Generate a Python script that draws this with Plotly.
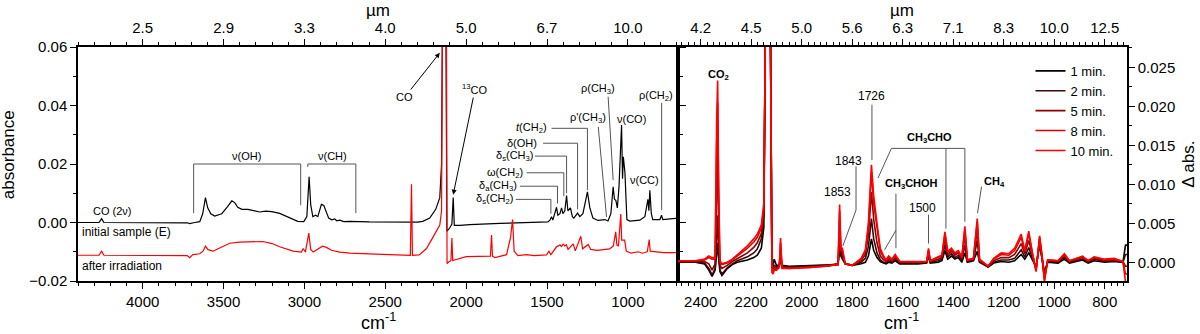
import plotly.graph_objects as go

# ---------------- data ----------------
# Left panel: initial sample (E), black
BLACK_WN = [4400, 4300, 4270, 4254, 4240, 3725, 3709, 3678, 3647, 3629,
            3612, 3598, 3579, 3555, 3511, 3474, 3449, 3431, 3412, 3387,
            3350, 3307, 3276, 3239, 3202, 3153, 3091, 3041, 3004, 2985,
            2971, 2961, 2948, 2930, 2917, 2895, 2880, 2868, 2850, 2831,
            2812, 2800, 2781, 2757, 2720, 2600, 2500, 2400, 2300, 2268,
            2225, 2188, 2163, 2152, 2146, 2126, 2119, 2101, 2088, 2080,
            2073, 2039, 1977, 1792, 1606, 1495, 1482, 1472, 1464, 1451,
            1441, 1433, 1420, 1410, 1402, 1390, 1379, 1371, 1355, 1343,
            1334, 1311, 1297, 1278, 1266, 1250, 1235, 1216, 1185, 1161,
            1142, 1123, 1105, 1091, 1083, 1074, 1065, 1055, 1049, 1039,
            1033, 1028, 1018, 1012, 1006, 988, 926, 895, 876, 870,
            864, 855, 846, 802, 792, 784, 740, 690]
BLACK_ABS = [0.0000, 0.0000, 0.0000, 0.0013, 0.0000, -0.0001, -0.0004, 0.0000, 0.0003, 0.0030,
             0.0085, 0.0050, 0.0030, 0.0022, 0.0030, 0.0055, 0.0074, 0.0068, 0.0052, 0.0045,
             0.0045, 0.0040, 0.0036, 0.0039, 0.0037, 0.0031, 0.0015, 0.0004, 0.0003, 0.0020,
             0.0156, 0.0060, 0.0020, 0.0025, 0.0020, 0.0062, 0.0058, 0.0040, 0.0015, 0.0009,
             0.0012, 0.0006, 0.0008, 0.0003, 0.0004, 0.0002, 0.0002, 0.0000, 0.0001, 0.0004,
             0.0015, 0.0045, 0.0085, 0.0200, 0.0750, 0.0750, -0.0030, -0.0018, -0.0005, 0.0085,
             -0.0010, -0.0010, -0.0007, -0.0003, 0.0000, 0.0002, 0.0008, 0.0020, 0.0008, 0.0030,
             0.0052, 0.0025, 0.0030, 0.0050, 0.0030, 0.0040, 0.0092, 0.0040, 0.0050, 0.0020,
             0.0015, 0.0032, 0.0020, 0.0030, 0.0060, 0.0105, 0.0050, 0.0015, 0.0007, 0.0008,
             0.0010, 0.0005, 0.0030, 0.0122, 0.0080, 0.0075, 0.0050, 0.0120, 0.0200, 0.0333,
             0.0150, 0.0225, 0.0170, 0.0100, 0.0010, 0.0005, 0.0008, 0.0020, 0.0079, 0.0040,
             0.0110, 0.0030, 0.0010, 0.0010, 0.0025, 0.0010, 0.0012, 0.0015]

# Left panel: after irradiation, red (offset)
RED_WN = [4400, 4270, 4254, 4240, 3725, 3709, 3690, 3647, 3627, 3612,
          3596, 3565, 3524, 3462, 3400, 3330, 3256, 3200, 3153, 3070,
          3018, 3008, 2994, 2973, 2961, 2946, 2920, 2888, 2864, 2833,
          2781, 2719, 2600, 2515, 2410, 2345, 2338, 2332, 2290, 2245,
          2204, 2163, 2152, 2146, 2122, 2118, 2108, 2094, 2088, 2083,
          2000, 1850, 1843, 1837, 1822, 1750, 1725, 1713, 1703, 1680,
          1627, 1580, 1503, 1488, 1476, 1441, 1430, 1420, 1410, 1400,
          1390, 1380, 1370, 1338, 1325, 1291, 1280, 1245, 1230, 1190,
          1112, 1090, 1075, 1068, 1058, 1044, 1038, 1020, 1010, 980,
          936, 910, 880, 868, 862, 820, 780, 690]
RED_ABS = [-0.0112, -0.0112, -0.0098, -0.0112, -0.0113, -0.0120, -0.0110, -0.0107, -0.0098, -0.0081,
           -0.0093, -0.0098, -0.0087, -0.0071, -0.0067, -0.0066, -0.0065, -0.0072, -0.0083, -0.0098,
           -0.0101, -0.0089, -0.0101, -0.0036, -0.0092, -0.0101, -0.0093, -0.0081, -0.0085, -0.0095,
           -0.0101, -0.0105, -0.0107, -0.0109, -0.0112, -0.0112, 0.0131, -0.0112, -0.0111, -0.0089,
           -0.0049, -0.0009, 0.0040, 0.0750, 0.0750, -0.0140, -0.0135, -0.0130, -0.0053, -0.0130,
           -0.0117, -0.0115, -0.0043, -0.0115, -0.0120, -0.0110, -0.0050, 0.0010, -0.0098, -0.0113,
           -0.0110, -0.0113, -0.0111, -0.0098, -0.0110, -0.0083, -0.0080, -0.0076, -0.0082, -0.0074,
           -0.0080, -0.0076, -0.0092, -0.0073, -0.0097, -0.0047, -0.0090, -0.0075, -0.0092, -0.0095,
           -0.0090, -0.0080, -0.0032, -0.0077, -0.0080, 0.0029, -0.0060, -0.0060, -0.0098, -0.0105,
           -0.0100, -0.0105, -0.0100, -0.0058, -0.0098, -0.0100, -0.0103, -0.0103]

# Right panel: difference spectra
RIGHT_WN = [2490, 2420, 2385, 2368, 2355, 2343, 2337, 2333, 2329, 2324,
            2316, 2295, 2275, 2255, 2215, 2190, 2176, 2160, 2150, 2144,
            2124, 2118, 2113, 2109, 2100, 2089, 2084, 2078, 2050, 1970,
            1900, 1856, 1850, 1845, 1839, 1828, 1800, 1765, 1748, 1736,
            1724, 1715, 1702, 1689, 1676, 1666, 1656, 1643, 1630, 1612,
            1540, 1505, 1498, 1491, 1460, 1445, 1433, 1422, 1407, 1394,
            1380, 1366, 1354, 1344, 1320, 1305, 1296, 1262, 1240, 1210,
            1180, 1157, 1131, 1117, 1101, 1086, 1072, 1058, 1048, 1039,
            1026, 985, 960, 940, 888, 866, 842, 800, 763, 728,
            718, 712]
ABS_1MIN = [0.0000, 0.0000, -0.0002, -0.0010, -0.0018, -0.0010, 0.0010, 0.0025, 0.0005, -0.0012,
            -0.0017, -0.0008, -0.0003, 0.0000, 0.0003, 0.0006, 0.0009, 0.0018, 0.0045, 0.0300,
            0.0300, 0.0000, -0.0003, 0.0004, -0.0004, -0.0004, 0.0002, -0.0004, -0.0005, -0.0004,
            -0.0003, -0.0003, 0.0016, 0.0008, 0.0004, -0.0002, -0.0004, -0.0002, 0.0000, 0.0008,
            0.0030, 0.0015, 0.0006, 0.0001, -0.0001, -0.0002, 0.0000, -0.0001, 0.0002, -0.0002,
            -0.0002, -0.0001, 0.0008, -0.0001, 0.0000, 0.0002, 0.0015, 0.0004, 0.0008, 0.0004,
            0.0006, 0.0000, 0.0012, 0.0000, 0.0002, 0.0014, 0.0000, -0.0006, -0.0001, 0.0001,
            0.0000, 0.0002, 0.0010, 0.0004, 0.0012, 0.0002, -0.0006, 0.0022, 0.0004, -0.0012,
            0.0000, -0.0001, 0.0004, -0.0001, 0.0003, -0.0001, 0.0002, 0.0000, 0.0001, 0.0000,
            0.0022, 0.0022]
ABS_2MIN = [0.0000, 0.0000, -0.0001, -0.0008, -0.0016, -0.0008, 0.0030, 0.0060, 0.0020, -0.0010,
            -0.0015, -0.0007, -0.0002, 0.0002, 0.0007, 0.0012, 0.0017, 0.0030, 0.0060, 0.0300,
            0.0300, -0.0003, -0.0006, -0.0004, -0.0006, -0.0004, 0.0008, -0.0005, -0.0006, -0.0005,
            -0.0004, -0.0002, 0.0030, 0.0012, 0.0008, -0.0002, -0.0004, 0.0000, 0.0005, 0.0020,
            0.0056, 0.0030, 0.0012, 0.0003, 0.0000, -0.0001, 0.0002, 0.0000, 0.0004, -0.0001,
            -0.0001, 0.0000, 0.0011, 0.0000, 0.0002, 0.0004, 0.0022, 0.0007, 0.0011, 0.0006,
            0.0009, 0.0002, 0.0022, 0.0001, 0.0003, 0.0028, 0.0001, -0.0006, 0.0000, 0.0003,
            0.0003, 0.0005, 0.0016, 0.0007, 0.0019, 0.0004, -0.0007, 0.0026, 0.0005, -0.0016,
            0.0001, 0.0000, 0.0006, 0.0000, 0.0004, 0.0000, 0.0004, 0.0001, 0.0002, 0.0000,
            0.0010, 0.0010]
ABS_5MIN = [0.0001, 0.0001, 0.0001, -0.0002, -0.0010, -0.0002, 0.0080, 0.0140, 0.0050, -0.0004,
            -0.0008, -0.0004, 0.0001, 0.0005, 0.0012, 0.0019, 0.0025, 0.0037, 0.0065, 0.0300,
            0.0300, -0.0006, -0.0009, -0.0007, -0.0008, -0.0005, 0.0016, -0.0006, -0.0007, -0.0006,
            -0.0005, -0.0002, 0.0050, 0.0014, 0.0012, -0.0002, -0.0004, 0.0002, 0.0010, 0.0035,
            0.0090, 0.0055, 0.0025, 0.0008, 0.0003, 0.0001, 0.0004, 0.0002, 0.0006, 0.0000,
            0.0000, 0.0000, 0.0014, 0.0001, 0.0004, 0.0006, 0.0030, 0.0010, 0.0014, 0.0009,
            0.0012, 0.0004, 0.0034, 0.0002, 0.0004, 0.0042, 0.0002, -0.0005, 0.0002, 0.0006,
            0.0006, 0.0010, 0.0024, 0.0011, 0.0028, 0.0007, -0.0009, 0.0030, 0.0006, -0.0020,
            0.0002, 0.0001, 0.0008, 0.0001, 0.0006, 0.0001, 0.0005, 0.0002, 0.0003, 0.0001,
            -0.0005, -0.0005]
ABS_8MIN = [0.0002, 0.0002, 0.0003, 0.0006, 0.0004, 0.0004, 0.0150, 0.0205, 0.0080, 0.0000,
            -0.0003, -0.0001, 0.0003, 0.0008, 0.0018, 0.0026, 0.0032, 0.0044, 0.0070, 0.0300,
            0.0300, -0.0009, -0.0012, -0.0009, -0.0009, -0.0006, 0.0025, -0.0007, -0.0008, -0.0006,
            -0.0005, -0.0003, 0.0066, 0.0016, 0.0015, -0.0002, -0.0004, 0.0004, 0.0014, 0.0045,
            0.0115, 0.0075, 0.0042, 0.0014, 0.0006, 0.0002, 0.0006, 0.0003, 0.0008, 0.0001,
            0.0000, 0.0001, 0.0016, 0.0002, 0.0006, 0.0008, 0.0036, 0.0013, 0.0016, 0.0011,
            0.0014, 0.0006, 0.0042, 0.0003, 0.0005, 0.0052, 0.0003, -0.0005, 0.0004, 0.0010,
            0.0009, 0.0015, 0.0032, 0.0014, 0.0036, 0.0009, -0.0011, 0.0032, 0.0007, -0.0023,
            0.0003, 0.0002, 0.0010, 0.0002, 0.0007, 0.0002, 0.0006, 0.0003, 0.0004, 0.0001,
            -0.0015, -0.0015]
ABS_10MIN = [0.0002, 0.0002, 0.0004, 0.0008, 0.0006, 0.0006, 0.0180, 0.0233, 0.0100, 0.0002,
             -0.0002, 0.0000, 0.0004, 0.0010, 0.0021, 0.0030, 0.0036, 0.0048, 0.0076, 0.0300,
             0.0300, -0.0013, -0.0015, -0.0010, -0.0010, -0.0007, 0.0031, -0.0008, -0.0008, -0.0007,
             -0.0005, -0.0003, 0.0074, 0.0018, 0.0018, -0.0002, -0.0004, 0.0005, 0.0016, 0.0050,
             0.0125, 0.0085, 0.0050, 0.0018, 0.0008, 0.0003, 0.0008, 0.0004, 0.0010, 0.0001,
             0.0001, 0.0001, 0.0018, 0.0002, 0.0007, 0.0009, 0.0039, 0.0014, 0.0018, 0.0012,
             0.0015, 0.0007, 0.0046, 0.0003, 0.0005, 0.0056, 0.0004, -0.0005, 0.0005, 0.0012,
             0.0011, 0.0018, 0.0036, 0.0015, 0.0040, 0.0010, -0.0012, 0.0034, 0.0008, -0.0025,
             0.0003, 0.0002, 0.0011, 0.0002, 0.0008, 0.0002, 0.0007, 0.0004, 0.0005, 0.0001,
             -0.0025, -0.0025]

SERIES_NAMES = ["1 min.", "2 min.", "5 min.", "8 min.", "10 min."]

# Tick labels
LEFT_TICKS_WN = [4000, 3500, 3000, 2500, 2000, 1500, 1000]
LEFT_TICKS_UM = ["2.5", "2.9", "3.3", "4.0", "5.0", "6.7", "10.0"]
RIGHT_TICKS_WN = [2400, 2200, 2000, 1800, 1600, 1400, 1200, 1000, 800]
RIGHT_TICKS_UM = ["4.2", "4.5", "5.0", "5.6", "6.3", "7.1", "8.3", "10.0", "12.5"]

# ---------------- figure ----------------
FONT = "Liberation Sans, Arial, sans-serif"
SERIES_COLORS = ["#000000", "#3c0808", "#8b0000", "#dc0000", "#ff0000"]
right_series = [ABS_1MIN, ABS_2MIN, ABS_5MIN, ABS_8MIN, ABS_10MIN]

fig = go.Figure()
fig.add_trace(go.Scatter(x=BLACK_WN, y=BLACK_ABS, mode="lines", xaxis="x", yaxis="y",
                         line=dict(color="#000000", width=1.2), showlegend=False, hoverinfo="skip"))
fig.add_trace(go.Scatter(x=RED_WN, y=RED_ABS, mode="lines", xaxis="x", yaxis="y",
                         line=dict(color="#ff0000", width=1.2), showlegend=False, hoverinfo="skip"))
for name, vals, col in zip(SERIES_NAMES, right_series, SERIES_COLORS):
    fig.add_trace(go.Scatter(x=RIGHT_WN, y=vals, mode="lines", name=name, xaxis="x2", yaxis="y2",
                             line=dict(color=col, width=1.6), hoverinfo="skip"))
# empty traces so the top (µm) axes are drawn
fig.add_trace(go.Scatter(x=[], y=[], xaxis="x3", yaxis="y", showlegend=False))
fig.add_trace(go.Scatter(x=[], y=[], xaxis="x4", yaxis="y2", showlegend=False))

W, H = 1200, 334
L, T = 78, 47
R = W - L - 1049
B = H - T - 234
pw = W - L - R
split = 600 / pw

common = dict(showline=True, linecolor="black", linewidth=1.5, ticks="outside", ticklen=6,
              tickwidth=1.3, tickcolor="black", showgrid=False, zeroline=False,
              automargin=False,
              tickfont=dict(family=FONT, size=15, color="black"))

def minor(dt):
    return dict(ticks="outside", ticklen=3, tickwidth=1, tickcolor="black",
                tickmode="linear", tick0=0, dtick=dt, showgrid=False)

fig.update_layout(
    template="none",
    width=W, height=H, margin=dict(l=L, r=R, t=T, b=B, autoexpand=False),
    paper_bgcolor="white", plot_bgcolor="white",
    font=dict(family=FONT, color="black"),
    xaxis=dict(domain=[0, split], range=[4400, 690], anchor="y", tick0=0, dtick=500,
               minor=minor(100), **common),
    xaxis3=dict(domain=[0, split], range=[4400, 690], anchor="y", overlaying="x", side="top",
                tickmode="array", tickvals=LEFT_TICKS_WN, ticktext=LEFT_TICKS_UM,
                minor=minor(100), **common),
    yaxis=dict(domain=[0, 1], range=[-0.02, 0.06], anchor="x", tick0=0, dtick=0.02,
               tickformat=".2f", mirror="ticks", minor=minor(0.01), **common),
    xaxis2=dict(domain=[split, 1], range=[2490, 712], anchor="y2", tick0=0, dtick=200,
                minor=minor(25), **common),
    xaxis4=dict(domain=[split, 1], range=[2490, 712], anchor="y2", overlaying="x2", side="top",
                tickmode="array", tickvals=RIGHT_TICKS_WN, ticktext=RIGHT_TICKS_UM,
                minor=minor(25), **common),
    yaxis2=dict(domain=[0, 1], range=[-0.0024, 0.0276], anchor="x2", side="right", tick0=0,
                dtick=0.005, tickformat=".3f", mirror=True, minor=minor(0.0025), **common),
    legend=dict(x=0.908, y=0.962, xanchor="left", yanchor="top", bgcolor="rgba(0,0,0,0)",
                font=dict(family=FONT, size=13, color="black"), tracegroupgap=0,
                itemwidth=30, borderwidth=0),
    showlegend=True,
)

# ---------------- labels ----------------
ann = []

def txt(x, y, text, xref="x", yref="y", size=11, **kw):
    d = dict(x=x, y=y, text=text, xref=xref, yref=yref, showarrow=False,
             xanchor="center", yanchor="middle",
             font=dict(family=FONT, size=size, color="black"))
    d.update(kw)
    ann.append(d)

# axis titles
txt(-0.0667, 0.538, "absorbance", "paper", "paper", size=17, textangle=-90)
txt(0.286, 1.156, "µm", "paper", "paper", size=17)
txt(0.7855, 1.156, "µm", "paper", "paper", size=17)
txt(0.286, -0.175, "cm<sup>-1</sup>", "paper", "paper", size=18)
txt(0.7846, -0.175, "cm<sup>-1</sup>", "paper", "paper", size=18)
txt(1.058, 0.50, "Δ abs.", "paper", "paper", size=17, textangle=-90)

# left panel labels
txt(4184, 0.0040, "CO (2ν)")
txt(4390, -0.0032, "initial sample (E)", size=12, xanchor="left")
txt(4390, -0.0150, "after irradiation", size=12, xanchor="left")
txt(3357, 0.0226, "ν(OH)")
txt(2825, 0.0226, "ν(CH)")
txt(1185, 0.0455, "ρ(CH<sub>3</sub>)")
txt(827, 0.0434, "ρ(CH<sub>2</sub>)")
txt(977, 0.0353, "ν(CO)")
txt(1245, 0.0356, "ρ'(CH<sub>3</sub>)")
txt(1595, 0.0322, "<i>t</i>(CH<sub>2</sub>)")
txt(1657, 0.0271, "δ(OH)")
txt(1699, 0.0227, "δ<sub>s</sub>(CH<sub>3</sub>)")
txt(1761, 0.0170, "ω(CH<sub>2</sub>)")
txt(1802, 0.0124, "δ<sub>a</sub>(CH<sub>3</sub>)")
txt(1822, 0.0079, "δ<sub>s</sub>(CH<sub>2</sub>)")
txt(895, 0.0147, "ν(CC)")

ann.append(dict(x=2163, y=0.058, ax=2379, ay=0.0429, xref="x", yref="y", axref="x", ayref="y",
                text="CO", showarrow=True, arrowhead=2, arrowsize=1, arrowwidth=1,
                arrowcolor="black", font=dict(family=FONT, size=11, color="black")))
ann.append(dict(x=2080, y=0.0095, ax=1945, ay=0.0456, xref="x", yref="y", axref="x", ayref="y",
                text="<sup>13</sup>CO", showarrow=True, arrowhead=2, arrowsize=1, arrowwidth=1,
                arrowcolor="black", font=dict(family=FONT, size=11, color="black")))

# right panel labels
txt(2329, 0.0240, "<b>CO<sub>2</sub></b>", "x2", "y2")
txt(1722, 0.0213, "1726", "x2", "y2", size=12)
txt(1816, 0.0130, "1843", "x2", "y2", size=12)
txt(1860, 0.0090, "1853", "x2", "y2", size=12)
txt(1496, 0.0159, "<b>CH<sub>3</sub>CHO</b>", "x2", "y2")
txt(1564, 0.0100, "<b>CH<sub>3</sub>CHOH</b>", "x2", "y2")
txt(1523, 0.0069, "1500", "x2", "y2", size=12)
txt(1238, 0.0103, "<b>CH<sub>4</sub></b>", "x2", "y2")

fig.update_layout(annotations=ann)

# leader lines
GRAY = "#555555"
left_paths = [
    "M3685,0.0032 L3685,0.0200 L3023,0.0200 L3023,0.0059",
    "M2979,0.0190 L2979,0.0200 L2682,0.0200 L2682,0.0032",
    "M1122,0.0430 L1091,0.0145",
    "M791,0.0409 L791,0.0042",
    "M1183,0.0327 L1132,0.0019",
    "M1472,0.0322 L1250,0.0322 L1250,0.0111",
    "M1524,0.0271 L1311,0.0271 L1311,0.0045",
    "M1575,0.0227 L1379,0.0227 L1379,0.0100",
    "M1626,0.0170 L1396,0.0170 L1396,0.0090",
    "M1668,0.0124 L1435,0.0124 L1435,0.0065",
    "M1693,0.0079 L1476,0.0079 L1476,0.0030",
]
right_paths = [
    "M1722,0.0202 L1722,0.0131",
    "M1785,0.0123 L1785,0.0067 L1837,0.0021",
    "M1698,0.0108 L1645,0.0146 L1354,0.0146 L1354,0.0052",
    "M1429,0.0146 L1429,0.0043",
    "M1627,0.0088 L1627,0.0018",
    "M1627,0.0041 L1672,0.0016",
    "M1498,0.0061 L1498,0.0024",
    "M1288,0.0097 L1304,0.0063",
]
shapes = [dict(type="path", path=p, xref="x", yref="y", line=dict(color=GRAY, width=1))
          for p in left_paths]
shapes += [dict(type="path", path=p, xref="x2", yref="y2", line=dict(color=GRAY, width=1))
           for p in right_paths]
fig.update_layout(shapes=shapes)

# remove the browser's default 8 px body margin so the figure fills the window
fig.write_html("out.html",
               config={"displayModeBar": False},
               post_script="document.body.style.margin='0';document.body.style.overflow='hidden';")
